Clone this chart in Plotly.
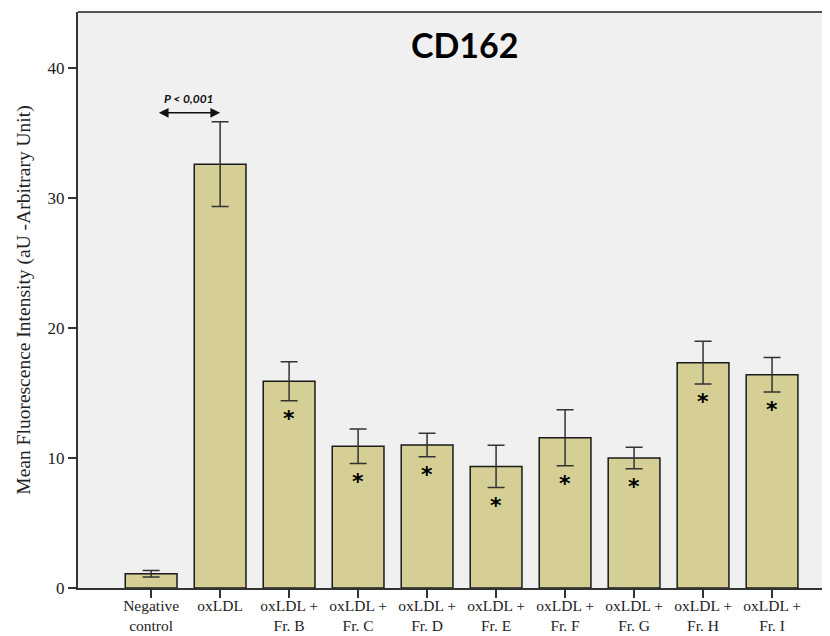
import plotly.graph_objects as go

categories = ["Negative<br>control", "oxLDL", "oxLDL +<br>Fr. B", "oxLDL +<br>Fr. C",
              "oxLDL +<br>Fr. D", "oxLDL +<br>Fr. E", "oxLDL +<br>Fr. F", "oxLDL +<br>Fr. G",
              "oxLDL +<br>Fr. H", "oxLDL +<br>Fr. I"]
values = [1.1, 32.6, 15.9, 10.9, 11.0, 9.35, 11.55, 10.0, 17.33, 16.4]
errors = [0.25, 3.25, 1.5, 1.33, 0.9, 1.63, 2.15, 0.83, 1.65, 1.33]
significant = [False, False, True, True, True, True, True, True, True, True]
y_ticks = [0, 10, 20, 30, 40]

xs = list(range(len(categories)))

fig = go.Figure()
fig.add_trace(go.Bar(
    x=xs, y=values, width=0.75,
    marker=dict(color="#d5cf95", line=dict(color="#1a1a1a", width=1.5)),
    error_y=dict(type="data", array=errors, visible=True, color="#333333",
                 thickness=1.5, width=8.5),
    showlegend=False,
))

annotations = []
for x, v, e, s in zip(xs, values, errors, significant):
    if s:
        annotations.append(dict(x=x, y=v - e, xref="x", yref="y", text="<b>*</b>",
                                showarrow=False, yanchor="top", yshift=-3,
                                font=dict(family="DejaVu Sans", size=22, color="#000000")))

# p-value bracket arrow between negative control and oxLDL
annotations.append(dict(x=1, y=36.55, ax=0.09, ay=36.55, xref="x", yref="y",
                        axref="x", ayref="y", text="", showarrow=True,
                        arrowhead=2, startarrowhead=2, arrowside="end+start",
                        arrowsize=1.3, startarrowsize=1.3, arrowwidth=1.5,
                        arrowcolor="#111111"))
annotations.append(dict(x=0.55, y=37.65, xref="x", yref="y", text="<b><i>P < 0,001</i></b>",
                        showarrow=False, font=dict(family="Lato", size=12, color="#111111")))
annotations.append(dict(x=0.515, y=41.8, xref="paper", yref="y", text="<b>CD162</b>",
                        showarrow=False, font=dict(family="Lato", size=34, color="#000000")))

# the page body has an 8px default margin, so the figure is sized to fit the window
fig.update_layout(
    width=822, height=628,
    margin=dict(l=70, r=0, t=4, b=48),
    paper_bgcolor="white", plot_bgcolor="#f0f0f0",
    annotations=annotations,
    xaxis=dict(range=[-1.06, 9.84], tickmode="array", tickvals=xs, ticktext=categories,
               automargin=False, ticklabelstandoff=-6,
               showgrid=False, zeroline=False, showline=True, linecolor="#333333", linewidth=2,
               ticks="outside", ticklen=8, tickwidth=2, tickcolor="#333333",
               tickfont=dict(family="Liberation Serif", size=15.5, color="#222222")),
    yaxis=dict(range=[0, 44.3], tickmode="array", tickvals=y_ticks, automargin=False,
               showgrid=False, zeroline=False, showline=True, linecolor="#333333", linewidth=2,
               ticks="outside", ticklen=8, tickwidth=2, tickcolor="#333333",
               tickfont=dict(family="Liberation Serif", size=17, color="#222222"),
               title=dict(text="Mean Fluorescence Intensity (aU -Arbitrary Unit)", standoff=12,
                          font=dict(family="Liberation Serif", size=19.5, color="#222222"))),
    shapes=[dict(type="line", xref="paper", yref="paper", x0=0, x1=1, y0=1, y1=1,
                 line=dict(color="#555555", width=2))],
)

fig.write_html("out.html")
